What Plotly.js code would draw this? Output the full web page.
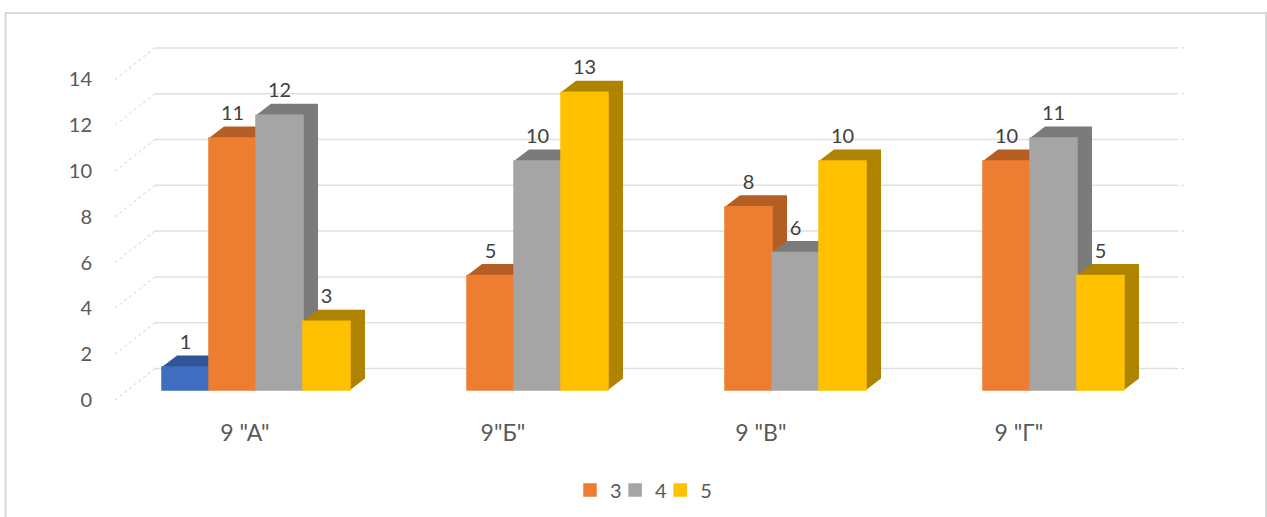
<!DOCTYPE html>
<html><head><meta charset="utf-8">
<script src="https://cdn.plot.ly/plotly-3.0.1.min.js"></script>
<style>html,body{margin:0;padding:0;background:#fff;overflow:hidden}</style></head>
<body><div id="chart" style="width:1267px;height:517px"></div>
<script>
// --- data ---
const categories = ['9 "А"', '9"Б"', '9 "В"', '9 "Г"'];
const seriesNames = ['2', '3', '4', '5'];
const values2 = [1, null, null, null];
const values3 = [11, 5, 8, 10];
const values4 = [12, 10, 6, 11];
const values5 = [3, 13, 10, 5];
const yTicks = [0, 2, 4, 6, 8, 10, 12, 14];

// --- styles and geometry ---
const frontColors = ['#3F6EC0', '#ED7D31', '#A5A5A5', '#FFC000'];
const sideColors  = ['#2F5597', '#B55E24', '#7B7B7B', '#AD8300'];
const allValues = [values2, values3, values4, values5];
const W = 1267, H = 517, L = 100, R = 1200, T = 30, B = 400, PB = 512;
const pxPerCat = 258, pxPerUnit = 22.9, cat0Px = 256, y0Px = 390;
const xU = px => (px - cat0Px) / pxPerCat;          // pixels → x units
const dxU = px => px / pxPerCat;
const dyU = px => px / pxPerUnit;
const xRange = [xU(L), xU(R)];
const wallRange = [0, dyU(B - T)];
const barRange = [dyU(y0Px - B), dyU(y0Px - T)];
const barW = dxU(47), barGap = 1 - 4 * barW;
const depthX = dxU(15), depthY = dyU(11.5);
const wallX0 = xU(115), wallX1 = xU(155), wallX2 = xU(1175), wallX3 = xU(1187), wallDY = dyU(31.5);
const font = 'Lato, "Noto Sans", sans-serif';
const paperX = px => (px - L) / (R - L);
const paperY = px => (PB - px) / (PB - T);
const yDomain = [paperY(B), 1];

const traces = [];
// walls (primary axis, carries the visible tick labels)
const gx = [], gy = [], dx = [], dy = [], tx = [], ty = [];
yTicks.forEach(v => {
  gx.push(wallX1, wallX2, null); gy.push(v + wallDY, v + wallDY, null);
  dx.push(wallX0, wallX1, null); dy.push(v, v + wallDY, null);
  tx.push(wallX2, wallX3, null); ty.push(v + wallDY, v + wallDY, null);
});
traces.push({type:'scatter', mode:'lines', x:gx, y:gy, yaxis:'y', showlegend:false, hoverinfo:'skip',
  line:{color:'#e0e0e0', width:1.5}});
traces.push({type:'scatter', mode:'lines', x:tx, y:ty, yaxis:'y', showlegend:false, hoverinfo:'skip',
  line:{color:'#d8d8d8', width:1, dash:'dot'}});
traces.push({type:'scatter', mode:'lines', x:dx, y:dy, yaxis:'y', showlegend:false, hoverinfo:'skip',
  line:{color:'#cfcfcf', width:1, dash:'dot'}});

// side + top faces, derived from the values, painted left to right (y2)
allValues.forEach((vals, s) => {
  const fx = [], fy = [];
  vals.forEach((v, c) => {
    if (v === null) return;
    const l = c + (s - 2) * barW, r = l + barW;
    fx.push(r, r + depthX, r + depthX, r, r, null);
    fy.push(0, depthY, v + depthY, v, 0, null);
    fx.push(l, l + depthX, r + depthX, r, l, null);
    fy.push(v, v + depthY, v + depthY, v, v, null);
  });
  traces.push({type:'scatter', mode:'lines', x:fx, y:fy, yaxis:'y2', fill:'toself', fillcolor:sideColors[s],
    line:{width:0, color:sideColors[s]}, showlegend:false, hoverinfo:'skip'});
});

// front faces (y3)
allValues.forEach((vals, s) => {
  traces.push({type:'bar', name:seriesNames[s], x:categories.map((_, i) => i), y:vals, yaxis:'y3',
    marker:{color:frontColors[s], line:{width:1.5, color:frontColors[s]}}, showlegend:s > 0, hoverinfo:'skip'});
});

// invisible trailing legend slot: keeps the narrow legend box from cutting off its last label
traces.push({type:'scatter', mode:'markers', name:' ', x:[null], y:[null], yaxis:'y3',
  marker:{opacity:0, color:'rgba(0,0,0,0)'}, showlegend:true, hoverinfo:'skip'});

// data labels (y3)
const labelLift = dyU(23);
allValues.forEach((vals, s) => {
  const lx = [], ly = [], lt = [];
  vals.forEach((v, c) => {
    if (v === null) return;
    lx.push(c + (s - 1.5) * barW); ly.push(v + labelLift); lt.push(String(v));
  });
  traces.push({type:'scatter', mode:'text', x:lx, y:ly, text:lt, yaxis:'y3', textposition:'middle center',
    textfont:{family:font, size:20, color:'#404040'}, showlegend:false, hoverinfo:'skip', cliponaxis:false});
});

const hiddenY = r => ({overlaying:'y', domain:yDomain, range:r, visible:false, fixedrange:true});
const layout = {
  width:W, height:H, paper_bgcolor:'#fff', plot_bgcolor:'rgba(0,0,0,0)',
  margin:{l:L, r:W - R, t:T, b:H - PB, pad:0},
  barmode:'group', bargap:barGap, bargroupgap:0,
  showlegend:true,
  legend:{orientation:'h', x:paperX(570), xanchor:'left', y:paperY(490), yanchor:'middle',
    font:{family:font, size:20, color:'#595959'}, entrywidth:0.1, entrywidthmode:'pixels',
    bgcolor:'rgba(0,0,0,0)', traceorder:'normal', itemclick:false, itemdoubleclick:false},
  xaxis:{range:xRange, tickvals:categories.map((_, i) => i - 0.043), ticktext:categories, showgrid:false, zeroline:false,
    showline:false, ticks:'outside', ticklen:12, tickcolor:'rgba(0,0,0,0)',
    tickfont:{family:font, size:23, color:'#595959'}, fixedrange:true},
  yaxis:{domain:yDomain, range:wallRange, tickvals:yTicks, ticktext:yTicks.map(String), showgrid:false, zeroline:false, showline:false,
    ticks:'outside', ticklen:3, tickcolor:'rgba(0,0,0,0)',
    tickfont:{family:font, size:20, color:'#595959'}, fixedrange:true},
  yaxis2:hiddenY(barRange),
  yaxis3:hiddenY(barRange),
  shapes:[{type:'rect', xref:'paper', yref:'paper', layer:'below',
    x0:paperX(5.5), x1:paperX(1266), y0:paperY(530), y1:paperY(13),
    line:{color:'#d9d9d9', width:2}, fillcolor:'rgba(0,0,0,0)'}]
};
Plotly.newPlot('chart', traces, layout, {displayModeBar:false, staticPlot:true});
</script></body></html>
